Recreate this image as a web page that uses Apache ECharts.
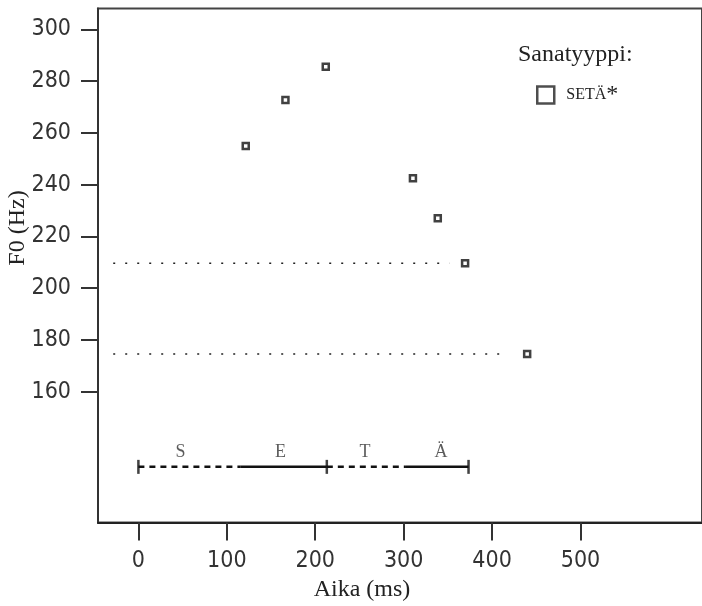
<!DOCTYPE html>
<html><head><meta charset="utf-8">
<script src="https://cdn.jsdelivr.net/npm/echarts@6/dist/echarts.min.js"></script>
<style>html,body{margin:0;padding:0;background:#fff}#c{width:702px;height:606px}</style>
</head><body><div id="c"></div>
<script>
// ---- data ----
const timesMs = [121.4, 166.3, 211.9, 310.5, 338.6, 369.5, 439.7];
const f0Hz = [254.9, 272.7, 285.5, 242.4, 227.0, 209.6, 174.5];
const seriesName = 'SETÄ*';
const legendTitle = 'Sanatyyppi:';
const xTicks = [0, 100, 200, 300, 400, 500];
const yTicks = [160, 180, 200, 220, 240, 260, 280, 300];
const refLineY = [209.6, 174.5];
const refLineStart = [-28.5, -28.5];
const refLineEnd = [351.7, 419.1];
const segLabels = ['S', 'E', 'T', 'Ä'];
const segStart = [0, 115.8, 213.1, 302.6];
const segEnd = [115.8, 213.1, 302.6, 373.4];
const segDashed = [true, false, true, false];
const segLabelX = [47.6, 160.7, 256.2, 342.3];
const segBarY = 130.9;
const segLabelY = 136.4;
const segTickX = [0, 213.1, 373.4];

const tickFont = "'Liberation Sans Narrow', 'DejaVu Sans Condensed', Roboto, sans-serif";
const serif = "'Liberation Serif', 'DejaVu Serif', serif";

const series = [];
series.push({
  name: seriesName, type: 'scatter', symbol: 'rect', symbolSize: 6,
  itemStyle: {color: '#fff', borderColor: '#111', borderWidth: 2.5},
  data: timesMs.map((t, i) => [t, f0Hz[i]]), z: 5
});
refLineY.forEach((y, i) => {
  series.push({
    type: 'line', silent: true, symbol: 'none',
    lineStyle: {color: '#222', width: 1.6, type: [2, 10]},
    data: [[refLineStart[i], y], [refLineEnd[i], y]]
  });
});
segStart.forEach((s, i) => {
  series.push({
    type: 'line', silent: true, symbol: 'none',
    lineStyle: {color: '#111', width: 2.5, type: segDashed[i] ? [6, 5] : 'solid'},
    data: [[s, segBarY], [segEnd[i], segBarY]]
  });
});
series.push({
  type: 'scatter', silent: true, symbol: 'rect', symbolSize: [2.5, 14],
  itemStyle: {color: '#111'},
  data: segTickX.map(x => [x, segBarY])
});
series.push({
  type: 'scatter', silent: true, symbolSize: 0,
  label: {show: true, position: 'inside', formatter: p => p.name,
    fontFamily: serif, fontSize: 18, color: '#333'},
  data: segLabels.map((l, i) => ({name: l, value: [segLabelX[i], segLabelY]}))
});

const chart = echarts.init(document.getElementById('c'));
chart.setOption({
  animation: false,
  backgroundColor: '#fff',
  grid: {left: 98, right: -4, top: 8.5, bottom: 83.5, show: true, borderColor: '#444', borderWidth: 2},
  title: {text: legendTitle, left: 518, top: 43, padding: 0,
    textStyle: {fontFamily: serif, fontSize: 24, fontWeight: 'normal', color: '#222'}},
  legend: {data: [seriesName], left: 536, top: 83, padding: 0, selectedMode: false,
    itemWidth: 17, itemHeight: 17, icon: 'rect',
    itemStyle: {color: '#fff', borderColor: '#222', borderWidth: 2.5},
    formatter: n => '{a|' + n.replace('*', '') + '}{b|*}',
    textStyle: {rich: {
      a: {fontFamily: serif, fontSize: 16, color: '#222', padding: [0, 0, 0, 7]},
      b: {fontFamily: serif, fontSize: 24, color: '#222'}
    }}},
  xAxis: {type: 'value', min: -45.7, max: 637.45,
    axisLine: {show: true, onZero: false, lineStyle: {color: '#222', width: 2}},
    axisTick: {show: true, length: 18, customValues: xTicks, lineStyle: {color: '#333', width: 2}},
    axisLabel: {customValues: xTicks, margin: 27, fontSize: 23, fontFamily: tickFont, color: '#333'},
    splitLine: {show: false}},
  yAxis: {type: 'value', min: 109.4, max: 308.04,
    axisLine: {show: true, onZero: false, lineStyle: {color: '#333', width: 2}},
    axisTick: {show: true, length: 17, customValues: yTicks, lineStyle: {color: '#333', width: 2}},
    axisLabel: {customValues: yTicks, margin: 27, fontSize: 23, fontFamily: tickFont, color: '#333'},
    splitLine: {show: false}},
  graphic: [
    {type: 'text', x: 18, y: 228, rotation: Math.PI / 2,
      style: {text: 'F0 (Hz)', font: "24px 'Liberation Serif'", fill: '#222', align: 'center', verticalAlign: 'middle'}},
    {type: 'text', x: 362, y: 590,
      style: {text: 'Aika (ms)', font: "24px 'Liberation Serif'", fill: '#222', align: 'center', verticalAlign: 'middle'}}
  ],
  series: series
});
</script></body></html>
